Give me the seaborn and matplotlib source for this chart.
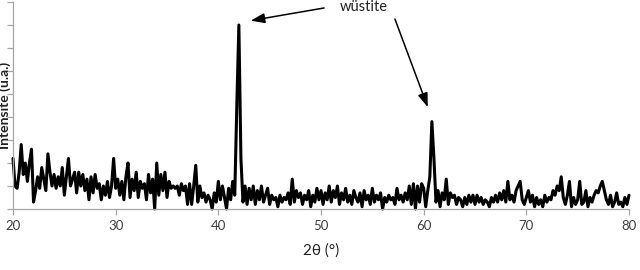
import numpy as np
import pandas as pd
import matplotlib
matplotlib.use("Agg")
import matplotlib.pyplot as plt
import seaborn as sns

# 2theta grid: 20.0 .. 80.0 step 0.2
two_theta_start = 20.0
two_theta_step = 0.2

seg_20_30 = [2.2, 1.0, 0.9, 1.6, 2.8, 1.5, 2.0, 1.2, 2.0, 2.6,
             0.3, 0.8, 1.4, 0.9, 1.8, 1.3, 0.8, 2.4, 1.6, 1.0,
             1.5, 0.9, 1.4, 1.0, 1.8, 0.6, 1.4, 2.2, 1.0, 1.3,
             1.6, 0.7, 1.6, 1.0, 1.5, 0.8, 1.3, 0.4, 1.4, 0.7,
             1.5, 0.9, 1.1, 0.4, 1.0, 0.6, 1.2, 0.5, 1.0, 2.2]
seg_30_40 = [0.9, 1.3, 0.6, 1.2, 0.4, 1.4, 2.0, 0.5, 1.3, 0.8,
             1.6, 0.5, 1.2, 0.9, 1.1, 0.4, 1.5, 0.7, 1.3, 0.0,
             2.0, 0.6, 1.5, 0.8, 1.6, 0.5, 1.2, 0.9, 1.0, 0.9,
             1.0, 0.6, 1.1, 0.8, 1.0, 0.2, 1.1, 0.2, 1.0, 1.9,
             0.3, 1.0, 0.5, 0.7, 0.3, 0.6, 0.4, 0.0, 0.7, 0.3]
seg_40_50 = [1.2, 0.4, 1.0, 0.5, 0.0, 0.9, 0.4, 1.2, 0.6, 4.5,
             8.0, 2.2, 0.3, 1.0, 0.2, 0.9, 0.4, 1.0, 0.2, 0.8,
             0.4, 1.0, 0.3, 0.6, 0.9, 0.2, 0.6, 0.4, 0.5, 0.1,
             0.6, 0.3, 0.5, 0.4, 0.7, 0.2, 1.3, 0.3, 0.8, 0.5,
             0.7, 0.2, 0.6, 0.4, 0.8, 0.1, 0.6, 0.3, 0.9, 0.4]
seg_50_60 = [0.8, 0.2, 0.7, 0.4, 1.0, 0.3, 0.8, 0.5, 1.0, 0.2,
             0.7, 0.4, 0.9, 0.3, 0.6, 0.2, 0.8, 0.5, 0.3, 0.7,
             0.1, 0.8, 0.4, 0.6, 0.2, 0.9, 0.3, 0.6, 0.4, 0.7,
             0.0, 0.5, 0.3, 0.6, 0.4, 0.5, 0.2, 0.9, 0.4, 0.6,
             0.3, 0.7, 0.4, 1.0, 0.2, 1.1, 0.0, 1.0, 0.3, 1.1]
seg_60_70 = [0.9, 0.1, 0.8, 1.4, 3.8, 2.2, 0.3, 0.8, 0.1, 0.7,
             0.4, 1.3, 0.2, 0.7, 0.5, 0.6, 0.2, 0.5, 0.4, 0.1,
             0.5, 0.2, 0.6, 0.3, 0.6, 0.2, 0.6, 0.3, 0.5, 0.2,
             0.4, 0.3, 0.1, 0.5, 0.3, 0.6, 0.3, 0.7, 0.4, 0.8,
             0.3, 1.2, 0.4, 0.6, 0.3, 0.8, 1.0, 1.2, 0.4, 0.2]
seg_70_80 = [0.5, 0.8, 0.3, 0.6, 0.1, 0.5, 0.2, 0.4, 0.1, 0.6,
             0.3, 0.5, 0.4, 0.8, 0.6, 1.0, 0.8, 1.4, 0.5, 0.2,
             0.6, 1.2, 0.1, 0.5, 0.2, 0.4, 1.2, 0.2, 0.3, 0.8,
             0.1, 0.5, 0.3, 0.6, 0.8, 0.7, 1.0, 1.2, 0.8, 0.4,
             0.2, 0.6, 0.1, 0.3, 0.7, 0.2, 0.3, 0.1, 0.5, 0.2,
             0.6]

intensity = seg_20_30 + seg_30_40 + seg_40_50 + seg_50_60 + seg_60_70 + seg_70_80
two_theta = [round(two_theta_start + i * two_theta_step, 1) for i in range(len(intensity))]

x_ticks = [20, 30, 40, 50, 60, 70, 80]
x_label = "2θ (°)"
y_label = "Intensité (u.a.)"
annotation_text = "wüstite"

df = pd.DataFrame({"two_theta": two_theta, "intensity": intensity})

sns.set_theme(style="white")
plt.rcParams["font.family"] = ["Lato", "DejaVu Sans"]

fig = plt.figure(figsize=(6.4, 2.7), dpi=100)
ax = fig.add_axes([13 / 640, 1 - 209 / 270, 616 / 640, 207 / 270])

sns.lineplot(data=df, x="two_theta", y="intensity", ax=ax, color="black",
             linewidth=2.2, clip_on=False)

ax.set_xlim(20, 80)
ax.set_ylim(0, 9)
ax.set_xticks(x_ticks)
ax.set_xticklabels([str(t) for t in x_ticks], fontsize=9.5, color="#404040")
ax.set_yticks(range(0, 10))
ax.set_yticklabels([])

for s in ["top", "right"]:
    ax.spines[s].set_visible(False)
for s in ["left", "bottom"]:
    ax.spines[s].set_color("#a6a6a6")
    ax.spines[s].set_linewidth(0.9)
ax.tick_params(axis="both", direction="out", length=4, width=0.9, color="#a6a6a6",
               left=True, bottom=True, pad=4)

ax.set_xlabel(x_label, fontsize=11, color="#222222", labelpad=8)
ax.set_ylabel(y_label, fontsize=10, fontweight="bold", color="#222222")
ax.yaxis.set_label_coords(-0.004, 0.5)

ax.text(54.2, 8.78, annotation_text, ha="center", va="center", fontsize=10.5, color="#222222")
arrow = dict(arrowstyle="-|>,head_length=0.7,head_width=0.25", color="black", lw=1.1,
             shrinkA=0, shrinkB=0)
ax.annotate("", xy=(43.15, 8.19), xytext=(50.3, 8.74), arrowprops=arrow, annotation_clip=False)
ax.annotate("", xy=(60.4, 4.43), xytext=(57.2, 8.26), arrowprops=arrow, annotation_clip=False)

fig.savefig("out.png", dpi=100)
